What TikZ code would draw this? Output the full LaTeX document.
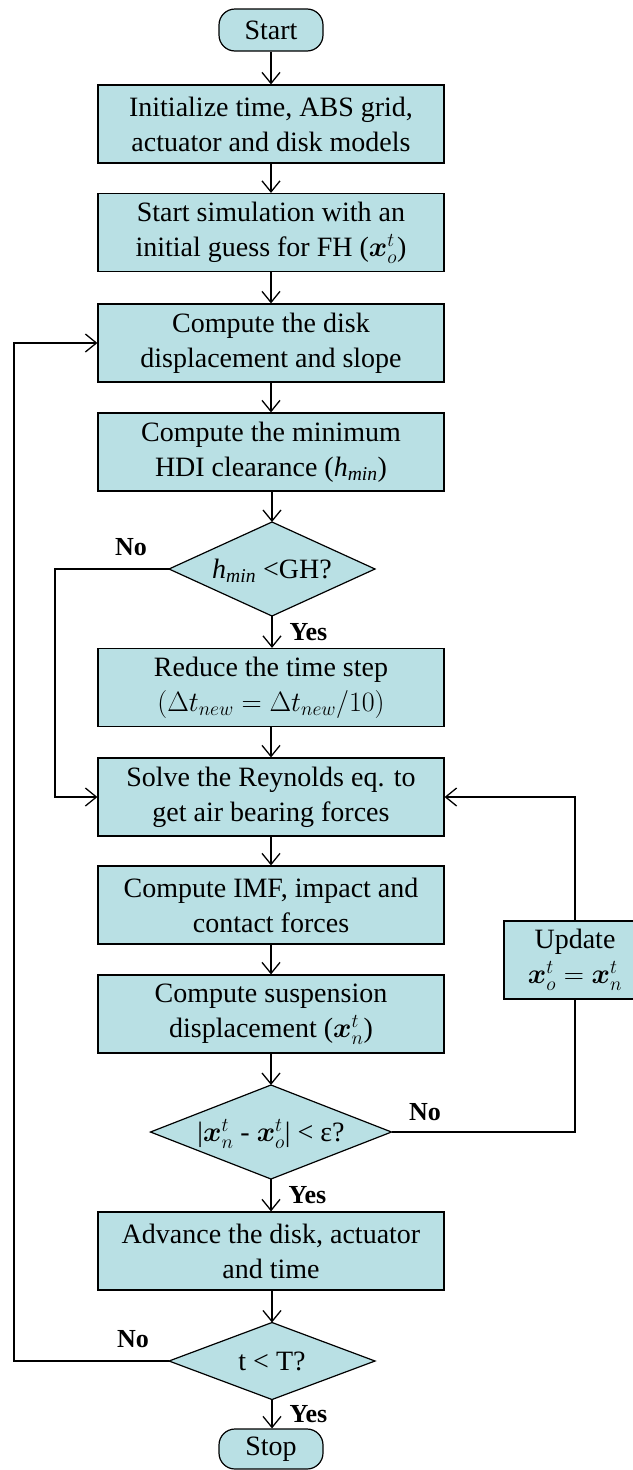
\RequirePackage{fix-cm}
\documentclass[tikz,border=0pt]{standalone}
\usepackage{fontspec}
\setmainfont{Liberation Serif}
\usepackage{amsmath}
\usetikzlibrary{arrows.meta,shapes.geometric}
\definecolor{boxfill}{RGB}{185,224,228}
\newcommand{\zsz}[1]{\makebox[0pt]{\smash{\raisebox{-0.33em}{#1}}}}
\begin{document}
\begin{tikzpicture}[x=1pt,y=-1pt,
  every node/.style={font=\fontsize{28}{35}\selectfont},
  box/.style={rectangle, draw=black, line width=1.2pt, fill=boxfill, minimum width=346pt, minimum height=78pt, inner sep=0pt, align=center},
  term/.style={rectangle, rounded corners=16pt, draw=black, line width=1.2pt, fill=boxfill, minimum width=104pt, minimum height=42pt, inner sep=0pt},
  dec/.style={diamond, draw=black, line width=1.2pt, fill=boxfill, inner sep=0pt, outer sep=0pt, align=center},
  arr/.style={line width=1.3pt, -{Straight Barb[length=11pt,width=18pt,line width=1.3pt]}},
  plain/.style={line width=1.3pt},
  lbl/.style={font=\fontsize{26}{30}\selectfont\bfseries, inner sep=0pt}]
\useasboundingbox (0,0) rectangle (632,1470);

\node[term] (start) at (271,30) {Start};
\node[box] (b1) at (271,124) {Initialize time, ABS grid,\\actuator and disk models};
\node[box] (b2) at (271,232.5) {Start simulation with an\\initial guess for FH ($\boldsymbol{x}_o^t$)};
\node[box] (b3) at (271,343) {Compute the disk\\displacement and slope};
\node[box] (b4) at (271,452) {Compute the minimum\\HDI clearance ({\itshape h}\textsubscript{\itshape min})};
\node[dec, minimum width=206pt, minimum height=94pt] (d1) at (272,569) {\zsz{{\itshape h}\textsubscript{\itshape min} <GH?}};
\node[box] (b5) at (271,687.5) {Reduce the time step\\$(\Delta t_{new} = \Delta t_{new}/10)$};
\node[box] (b6) at (271,797) {Solve the Reynolds eq. to\\get air bearing forces};
\node[box] (b7) at (271,905) {Compute IMF, impact and\\contact forces};
\node[box] (b8) at (271,1014) {Compute suspension\\displacement ($\boldsymbol{x}_n^t$)};
\node[dec, minimum width=241pt, minimum height=94pt] (d2) at (271,1132) {\zsz{|$\boldsymbol{x}_n^t$ - $\boldsymbol{x}_o^t$| < ε?}};
\node[box, minimum width=142pt] (upd) at (575,960) {Update\\$\boldsymbol{x}_o^t = \boldsymbol{x}_n^t$};
\node[box] (b9) at (271,1251) {Advance the disk, actuator\\and time};
\node[dec, minimum width=206pt, minimum height=77pt] (d3) at (272,1361) {\zsz{t < T?}};
\node[term, minimum height=40pt] (stop) at (271,1449) {Stop};

\draw[arr] (start) -- (b1);
\draw[arr] (b1) -- (b2);
\draw[arr] (b2) -- (b3);
\draw[arr] (b3) -- (b4);
\draw[arr] (b4.south -| d1.north) -- (d1.north);
\draw[arr] (d1.south) -- node[lbl, anchor=west, xshift=17pt] {Yes} (b5.north -| d1.south);
\draw[arr] (b5) -- (b6);
\draw[arr] (b6) -- (b7);
\draw[arr] (b7) -- (b8);
\draw[arr] (b8.south -| d2.north) -- (d2.north);
\draw[arr] (d2.south) -- node[lbl, anchor=west, xshift=17pt] {Yes} (b9.north -| d2.south);
\draw[arr] (b9.south -| d3.north) -- (d3.north);
\draw[arr] (d3.south) -- node[lbl, anchor=west, xshift=17pt] {Yes} (stop.north -| d3.south);

\coordinate (c1) at (55,569);
\draw[arr] (d1.west) -- (c1) |- (b6.west);
\node[lbl] (no1) at (131,547) {No};

\draw[plain] (d2.east) -| (upd.south);
\draw[arr] (upd.north) |- (b6.east);
\node[lbl] (no2) at (425,1112) {No};

\coordinate (c2) at (14,1361);
\draw[arr] (d3.west) -- (c2) |- (b3.west);
\node[lbl] (no3) at (133,1339) {No};
\end{tikzpicture}
\end{document}
